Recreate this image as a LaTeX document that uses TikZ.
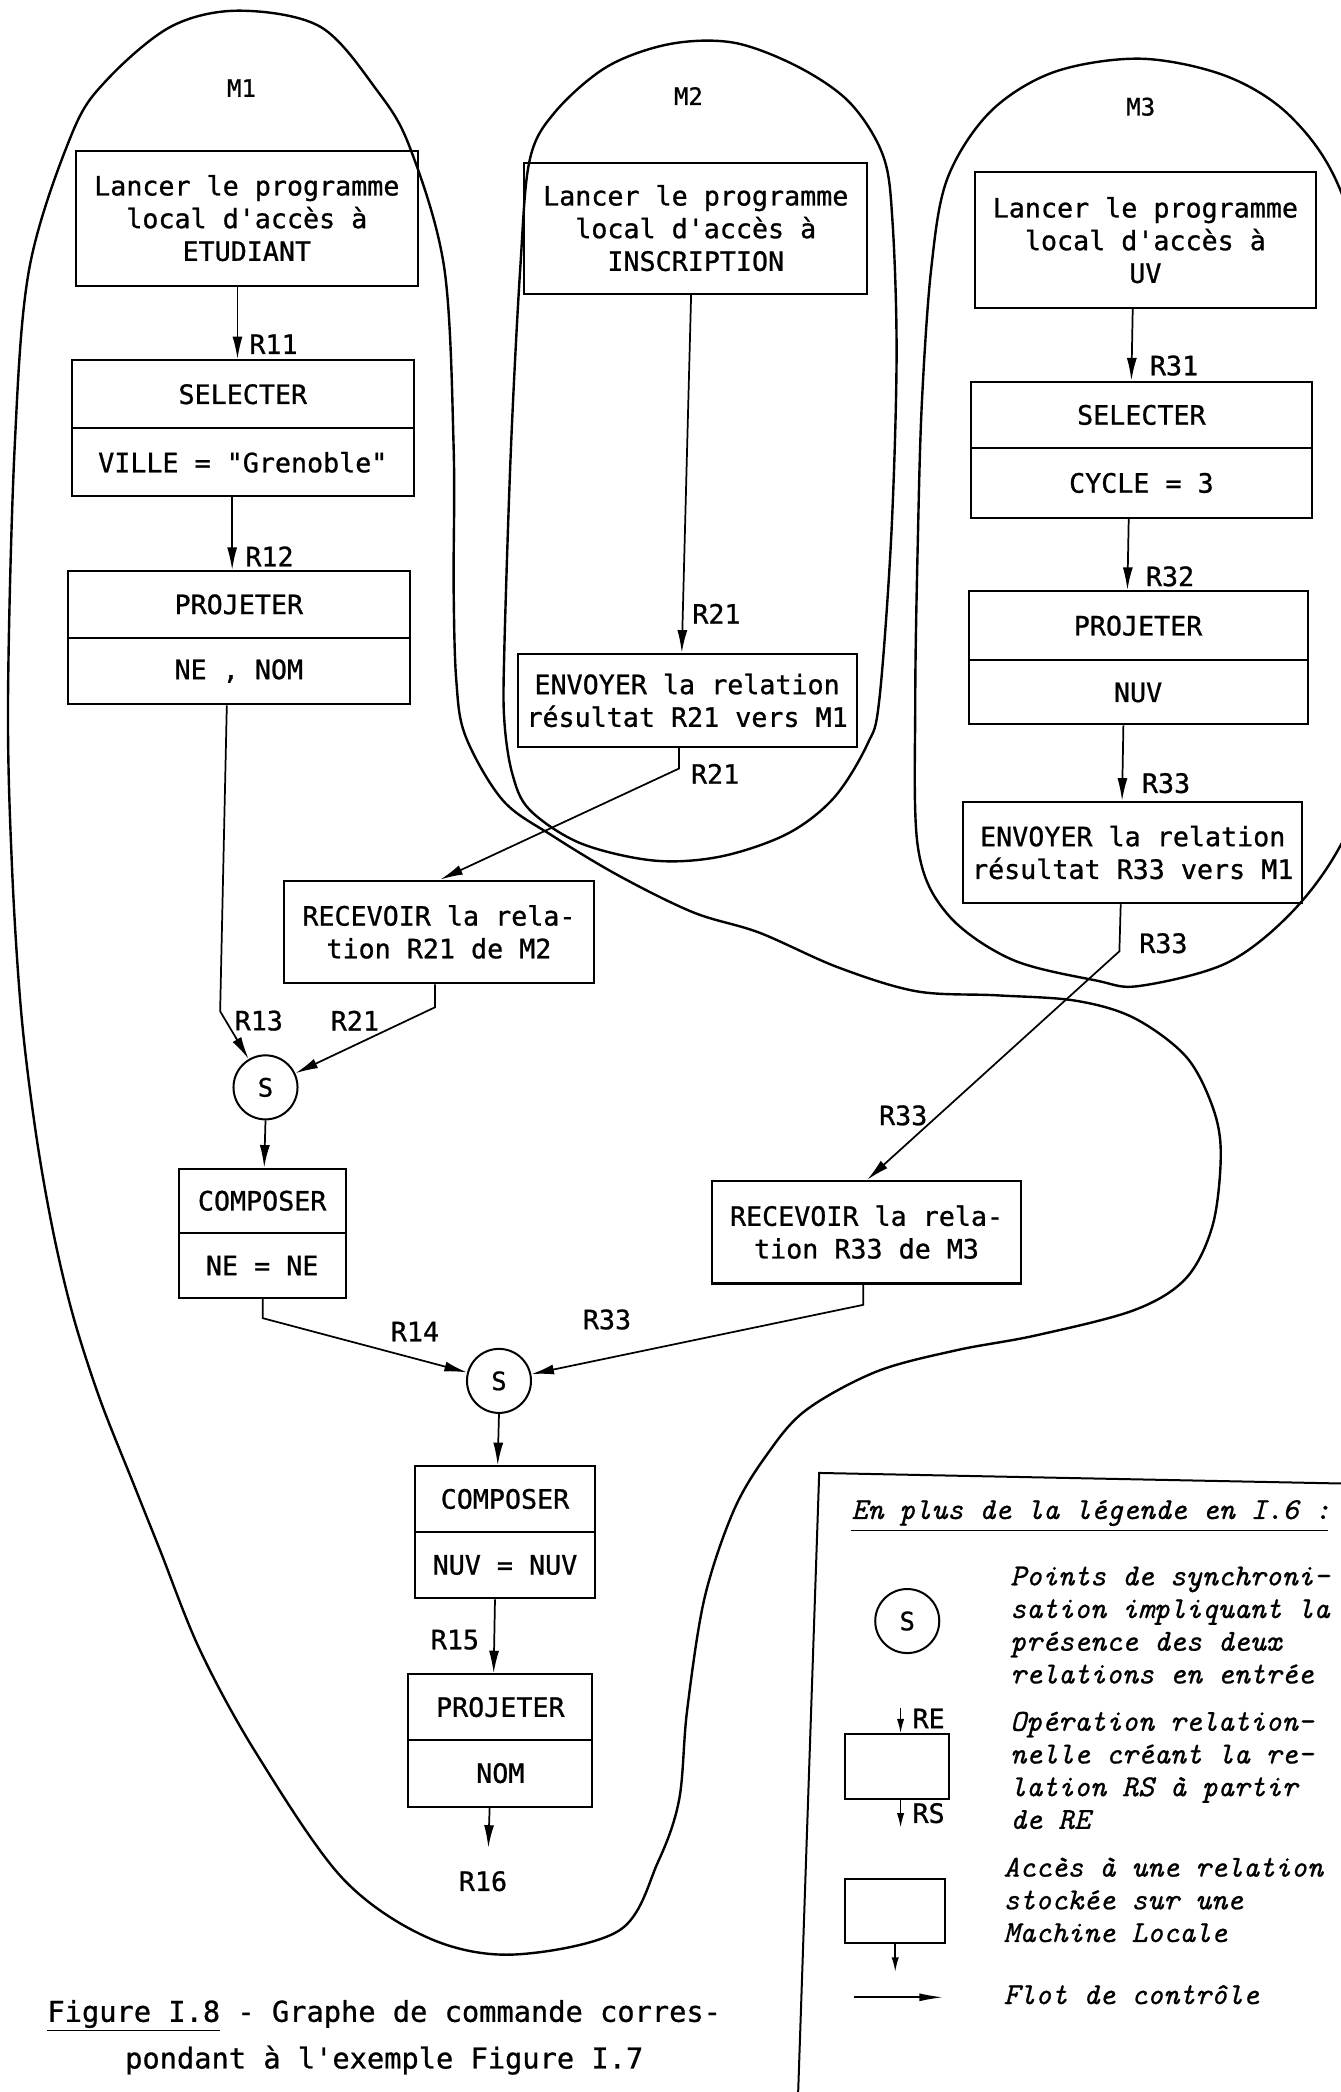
\documentclass[tikz,border=0pt]{standalone}
\usepackage{fontspec}
\newfontfamily\boxfont{DejaVu Sans Mono}[RawFeature={embolden=0.9}]
\newfontfamily\legfont{Latin Modern Mono}[RawFeature={embolden=0.8}]
\usetikzlibrary{arrows.meta}
\begin{document}
\begin{tikzpicture}[x=1pt,y=-1pt,
  box/.style={draw, line width=1.5pt, inner sep=0pt, align=center,
    font=\boxfont\fontsize{20}{24.5}\selectfont},
  lbl/.style={inner sep=0pt, font=\boxfont\fontsize{20}{22}\selectfont},
  mlbl/.style={inner sep=0pt, font=\boxfont\fontsize{18}{22}\selectfont},
  arr/.style={line width=1.3pt, -{Latex[length=17pt,width=7.5pt]}},
  sarr/.style={line width=1.3pt, -{Latex[length=11pt,width=5.5pt]}},
  blob/.style={line width=1.8pt},
  sync/.style={circle, draw, line width=1.5pt, minimum size=48pt, inner sep=0pt,
    font=\boxfont\fontsize{19}{22}\selectfont},
  legtext/.style={inner sep=0pt, align=left, anchor=west,
    font=\legfont\itshape\fontsize{22.8}{24.5}\selectfont},
  captext/.style={inner sep=0pt, align=center,
    font=\boxfont\fontsize{21.5}{35}\selectfont}
]
\useasboundingbox (0,0) rectangle (1005,1568);
\clip (0,0) rectangle (1005,1568);

% ---------- machine outlines ----------
\draw[blob] plot[smooth cycle, tension=0.55] coordinates {
 (179,8) (240,20) (282,67) (307,110) (333,201) (340,335) (340,440) (342,510)
 (349,552) (377,600) (415,627) (465,657) (520,684) (569,699) (628,725)
 (687,743) (747,746) (806,750) (850,763) (889,792) (909,830) (915,865)
 (909,918) (889,958) (850,982) (776,1001) (717,1012) (657,1028) (604,1057)
 (575,1090) (550,1132) (528,1198) (515,1282) (509,1349) (493,1396)
 (464,1447) (384,1465) (320,1452) (256,1407) (192,1314) (150,1237)
 (120,1162) (100,1112) (75,1049) (55,987) (40,924) (27,850) (16,760)
 (9,650) (6,525) (11,335) (22,201) (54,100) (80,60) (128,20)};
\draw[blob] plot[smooth cycle, tension=0.55] coordinates {
 (502,33) (550,32) (598,50) (637,77) (662,117) (669,167) (672,268) (668,402)
 (659,525) (650,558) (625,598) (590,625) (540,642) (490,645) (435,632)
 (397,607) (384,580) (378,540) (378,487) (383,335) (390,200) (397,120)
 (416,84) (455,50)};
\draw[blob] plot[smooth cycle, tension=0.55] coordinates {
 (686,525) (688,402) (691,301) (698,201) (710,134) (742,84) (790,54) (855,44)
 (919,57) (967,87) (1004,141) (1035,250) (1045,400) (1035,560) (1004,635)
 (967,685) (919,722) (854,739) (822,735) (758,719) (710,685) (688,635)};

\node[mlbl] (m1) at (181,66) {M1};
\node[mlbl] (m2) at (516,72) {M2};
\node[mlbl] (m3) at (855,80) {M3};

% ---------- M1 ----------
\node[box, minimum width=256pt, minimum height=101pt] (e1) at (185,163.5)
  {Lancer le programme\\local d'accès à\\ETUDIANT};
\node[box, minimum width=256pt, minimum height=51pt] (s1a) at (182,295.5) {SELECTER};
\node[box, minimum width=256pt, minimum height=51pt] (s1b) at (182,346.5) {VILLE = "Grenoble"};
\node[box, minimum width=256pt, minimum height=50pt] (p1a) at (179,453) {PROJETER};
\node[box, minimum width=256pt, minimum height=50pt] (p1b) at (179,503) {NE , NOM};
\node[box, minimum width=232pt, minimum height=77pt] (r1) at (329,698.5)
  {RECEVOIR la rela-\\tion R21 de M2};
\node[sync] (S1) at (199,815) {S};
\node[box, minimum width=125pt, minimum height=48pt] (c1a) at (196.5,900) {COMPOSER};
\node[box, minimum width=125pt, minimum height=49pt] (c1b) at (196.5,948.5) {NE = NE};
\node[box, minimum width=231pt, minimum height=77pt] (r3) at (649.5,923.5)
  {RECEVOIR la rela-\\tion R33 de M3};
\node[sync] (S2) at (374,1035) {S};
\node[box, minimum width=135pt, minimum height=49pt] (c2a) at (378.5,1123.5) {COMPOSER};
\node[box, minimum width=135pt, minimum height=50pt] (c2b) at (378.5,1173) {NUV = NUV};
\node[box, minimum width=138pt, minimum height=49pt] (p2a) at (375,1279.5) {PROJETER};
\node[box, minimum width=138pt, minimum height=50pt] (p2b) at (375,1329) {NOM};

% ---------- M2 ----------
\node[box, minimum width=257pt, minimum height=98pt] (i2) at (521.5,171)
  {Lancer le programme\\local d'accès à\\INSCRIPTION};
\node[box, minimum width=254pt, minimum height=70pt] (env2) at (515,525)
  {ENVOYER la relation\\résultat R21 vers M1};

% ---------- M3 ----------
\node[box, minimum width=255pt, minimum height=102pt] (u3) at (858.5,180)
  {Lancer le programme\\local d'accès à\\UV};
\node[box, minimum width=255pt, minimum height=50pt] (s3a) at (855.5,311) {SELECTER};
\node[box, minimum width=255pt, minimum height=52pt] (s3b) at (855.5,362) {CYCLE = 3};
\node[box, minimum width=254pt, minimum height=52pt] (p3a) at (853,469) {PROJETER};
\node[box, minimum width=254pt, minimum height=48pt] (p3b) at (853,519) {NUV};
\node[box, minimum width=254pt, minimum height=76pt] (env3) at (849,639)
  {ENVOYER la relation\\résultat R33 vers M1};

% ---------- bend points ----------
\coordinate (k13) at (165,758);
\coordinate (k21) at (326,755);
\coordinate (k21b) at (509,576);
\coordinate (k14) at (197,988);
\coordinate (k33) at (647,978);
\coordinate (k33b) at (839,713);
\coordinate (end16) at (366,1385);

% ---------- connectors ----------
\draw[arr] ([xshift=-7pt]e1.south) -- ([xshift=-4pt]s1a.north);
\draw[arr] ([xshift=-8pt]s1b.south) -- ([xshift=-5pt]p1a.north);
\draw[arr] ([xshift=-9pt]p1b.south) -- (k13) -- (S1);
\draw[arr] ([xshift=-3pt]r1.south) -- (k21) -- (S1);
\draw[arr] ([xshift=-3.5pt]i2.south) -- ([xshift=-4pt]env2.north);
\draw[arr] ([xshift=-6pt]env2.south) -- (k21b) -- ([xshift=1pt]r1.north);
\draw[arr] (S1.south) -- ([xshift=1.5pt]c1a.north);
\draw[arr] ([xshift=0.5pt]c1b.south) -- (k14) -- (S2);
\draw[arr] ([xshift=-2.5pt]r3.south) -- (k33) -- (S2);
\draw[arr] (S2.south) -- ([xshift=-5.5pt]c2a.north);
\draw[arr] ([xshift=-7.5pt]c2b.south) -- ([xshift=-5pt]p2a.north);
\draw[arr] ([xshift=-8pt]p2b.south) -- (end16);
\draw[arr] ([xshift=-9.5pt]u3.south) -- ([xshift=-7.5pt]s3a.north);
\draw[arr] ([xshift=-9.5pt]s3b.south) -- ([xshift=-8pt]p3a.north);
\draw[arr] ([xshift=-11pt]p3b.south) -- ([xshift=-8pt]env3.north);
\draw[arr] ([xshift=-9pt]env3.south) -- (k33b) -- ([xshift=0.5pt]r3.north);

% ---------- connector labels ----------
\node[lbl] (l11) at (205,258) {R11};
\node[lbl] (l12) at (202,417) {R12};
\node[lbl] (l13) at (194,765) {R13};
\node[lbl] (l21a) at (537,460) {R21};
\node[lbl] (l21b) at (536,580) {R21};
\node[lbl] (l21c) at (266,765) {R21};
\node[lbl] (l14) at (311,998) {R14};
\node[lbl] (l33a) at (455,989) {R33};
\node[lbl] (l15) at (341,1229) {R15};
\node[lbl] (l16) at (362,1410) {R16};
\node[lbl] (l31) at (880,274) {R31};
\node[lbl] (l32) at (877,432) {R32};
\node[lbl] (l33b) at (874,587) {R33};
\node[lbl] (l33c) at (872,707) {R33};
\node[lbl] (l33d) at (677,836) {R33};

% ---------- caption ----------
\node[captext] (cap) at (288,1527)
  {\underline{Figure I.8} - Graphe de commande corres-\\pondant à l'exemple Figure I.7};

% ---------- legend ----------
\draw[line width=1.5pt] (1010,1112) -- (614,1104) -- (598,1575);
\node[legtext] (lt) at (638,1134) {En plus de la légende en I.6 :};
\draw[line width=1.1pt] (638,1147) -- (995,1147);
\node[sync] (lS) at (680,1215) {S};
\node[legtext] (lt1) at (757,1218)
  {Points de synchroni-\\sation impliquant la\\présence des deux\\relations en entrée};
\node[draw, line width=1.5pt, minimum width=78pt, minimum height=48pt, inner sep=0pt] (lr1) at (672,1324) {};
\coordinate (re) at (675,1280);
\coordinate (rs) at (675,1370);
\draw[sarr] (re) -- ([xshift=3pt]lr1.north);
\draw[sarr] ([xshift=3pt]lr1.south) -- (rs);
\node[lbl] (lre) at (696,1288) {RE};
\node[lbl] (lrs) at (696,1359) {RS};
\node[legtext] (lt2) at (757,1327)
  {Opération relation-\\nelle créant la re-\\lation RS à partir\\de RE};
\node[draw, line width=1.5pt, minimum width=75pt, minimum height=48pt, inner sep=0pt] (lr2) at (670.5,1432) {};
\coordinate (lr2e) at (671,1478);
\draw[sarr] ([xshift=0.5pt]lr2.south) -- (lr2e);
\node[legtext] (lt3) at (752,1424)
  {Accès à une relation\\stockée sur une\\Machine Locale};
\coordinate (fa) at (640,1497);
\coordinate (fb) at (707,1497);
\draw[line width=1.3pt, -{Latex[length=18pt,width=6pt]}] (fa) -- (fb);
\node[legtext] (lt4) at (752,1495) {Flot de contrôle};
\end{tikzpicture}
\end{document}
